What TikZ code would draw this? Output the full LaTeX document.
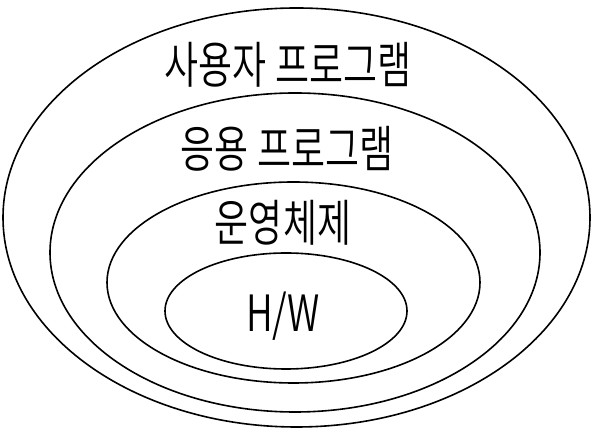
\documentclass[tikz,border=0pt]{standalone}
\usepackage{fontspec}
\usepackage{tikz}
\IfFontExistsTF{Noto Sans CJK KR DemiLight}
  {\newfontfamily\kor[FakeStretch=0.74]{Noto Sans CJK KR DemiLight}}
  {\newfontfamily\kor[FakeStretch=0.74]{Noto Sans CJK KR}}

\begin{document}
\begin{tikzpicture}[x=1pt, y=1pt,
  ring/.style={draw, line width=1.6pt},
  layertext/.style={inner sep=0pt, font=\kor\fontsize{50}{50}\selectfont}
]
\useasboundingbox (0,0) rectangle (599,435);
% layers, outside to inside
\draw[ring] (296.5,217.5) ellipse [x radius=293.5, y radius=209.5];
\draw[ring] (295,182.5) ellipse [x radius=245, y radius=159.5];
\draw[ring] (293.5,152.5) ellipse [x radius=186.5, y radius=100.5];
\draw[ring] (286,124) ellipse [x radius=121, y radius=58];
% names
\node[layertext] (user) at (288,370) {사용자 프로그램};
\node[layertext] (app)  at (287,286) {응용 프로그램};
\node[layertext] (os)   at (283,212) {운영체제};
\node[layertext] (hw)   at (283,119) {H/W};
\end{tikzpicture}
\end{document}
